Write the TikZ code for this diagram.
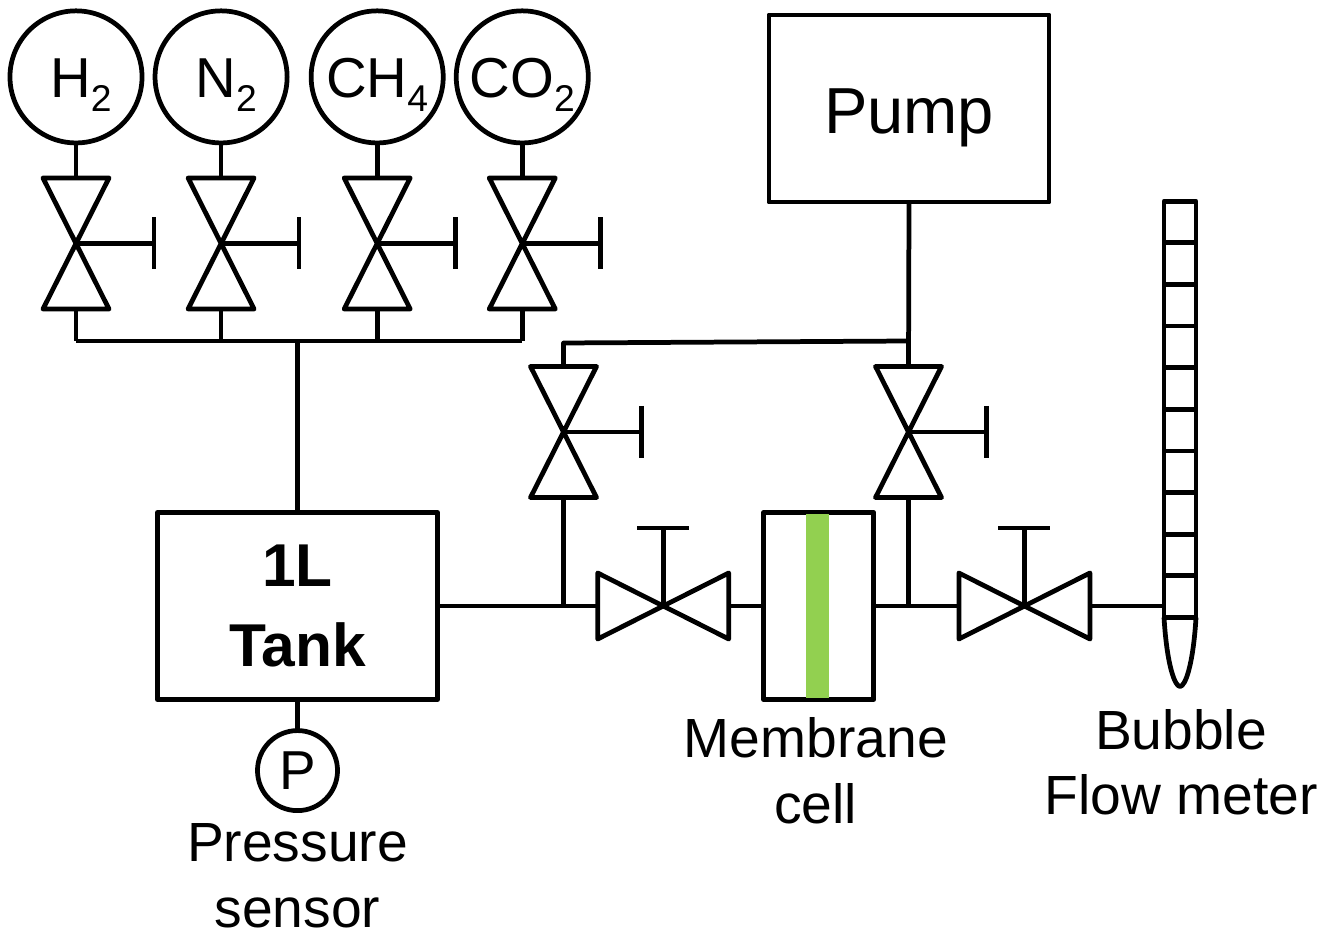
\documentclass[tikz,border=0pt]{standalone}
\usepackage{fontspec}
\usepackage{xcolor}
\setmainfont{Liberation Sans}
\usetikzlibrary{positioning}

\definecolor{filmgreen}{HTML}{92D050}

\tikzset{
    gas/.style={draw, circle, minimum size=1.32cm, inner sep=0pt, outer sep=0pt, text height=0.42cm, text depth=0cm, font=\fontsize{16}{18}\selectfont},
    vvalve/.style={minimum width=0.66cm, minimum height=1.31cm, inner sep=0pt, outer sep=0pt},
    hvalve/.style={minimum width=1.31cm, minimum height=0.66cm, inner sep=0pt, outer sep=0pt},
    block/.style={draw, rectangle, inner sep=0pt, outer sep=0pt, minimum width=2.8cm, minimum height=1.87cm},
    cell/.style={draw, rectangle, inner sep=0pt, outer sep=0pt, minimum width=0.32cm, minimum height=0.416cm},
    caption/.style={inner sep=0pt, align=center, font=\fontsize{15.7}{18.5}\selectfont}
}

\newcommand{\gaslabel}[3][0cm]{\hspace*{#1}#2\raisebox{-0.14cm}{\fontsize{10.6}{12}\selectfont #3}}
\newcommand{\vglyph}[1]{\draw (#1.north west) -- (#1.north east) -- (#1.south west) -- (#1.south east) -- cycle;
    \draw (#1.center) -- +(78,0) +(78,-26) -- +(78,26);}
\newcommand{\hglyph}[1]{\draw (#1.north west) -- (#1.south west) -- (#1.north east) -- (#1.south east) -- cycle;
    \draw (#1.center) -- +(0,-78) +(-26,-78) -- +(26,-78);}

\begin{document}
\begin{tikzpicture}[x=0.01cm, y=-0.01cm, line width=1.35pt, line join=round]
        \useasboundingbox (0,0) rectangle (1325,934);

        % Gas valves
        \node (v1) [vvalve] at (76,243.5) {};
        \node (v2) [vvalve, right=0.79cm of v1] {};
        \node (v3) [vvalve, right=0.90cm of v2] {};
        \node (v4) [vvalve, right=0.79cm of v3] {};
        \vglyph{v1}
        \vglyph{v2}
        \vglyph{v3}
        \vglyph{v4}

        % Gas cylinders
        \node (h2) [gas, above=0.35cm of v1] {\gaslabel[0.1cm]{H}{2}};
        \node (n2) [gas, above=0.35cm of v2] {\gaslabel[0.1cm]{N}{2}};
        \node (ch4) [gas, above=0.35cm of v3] {\gaslabel{CH}{4}};
        \node (co2) [gas, above=0.35cm of v4] {\gaslabel{CO}{2}};

        % Header
        \coordinate (hdr1) at (v1.south |- 0,341);
        \coordinate (hdr2) at (v2.south |- 0,341);
        \coordinate (hdr3) at (v3.south |- 0,341);
        \coordinate (hdr4) at (v4.south |- 0,341);

        % Tank
        \node (tank) [block, align=center, font=\fontsize{17.2}{22.6}\selectfont\bfseries] at (297.5,606) {1L\\Tank};
        \node (sensor) [draw, circle, minimum size=0.8cm, inner sep=0pt, outer sep=0pt, font=\fontsize{15.6}{18}\selectfont, below=0.31cm of tank] {P};
        \node (sensorlabel) [caption, below=0.11cm of sensor] {Pressure\\sensor};

        % Feed line valves
        \node (hv1) [hvalve, right=1.60cm of tank] {};
        \hglyph{hv1}

        % Membrane cell
        \node (cellbody) [block, minimum width=1.1cm, right=0.35cm of hv1] {};
        \node (film) [fill=filmgreen, minimum width=0.23cm, minimum height=1.83cm, inner sep=0pt, xshift=-0.015cm] at (cellbody) {};
        \node (celllabel) [caption, below=0.16cm of cellbody, xshift=-0.03cm] {Membrane\\cell};

        \node (hv2) [hvalve, right=0.85cm of cellbody] {};
        \hglyph{hv2}

        % Pump
        \node (pump) [block, text height=0.49cm, text depth=0cm, font=\fontsize{18.5}{22}\selectfont] at (909,108.5) {Pump};

        % Bypass valves
        \node (v5) [vvalve] at (563.5,432) {};
        \node (v6) [vvalve] at (908.5,432) {};
        \vglyph{v5}
        \vglyph{v6}
        \coordinate (topl) at (v5.north |- 0,343);
        \coordinate (topr) at (v6.north |- 0,341);

        % Bubble flow meter
        \node (m1) [cell] at (1180,222) {};
        \node (m2) [cell, below=0cm of m1] {};
        \node (m3) [cell, below=0cm of m2] {};
        \node (m4) [cell, below=0cm of m3] {};
        \node (m5) [cell, below=0cm of m4] {};
        \node (m6) [cell, below=0cm of m5] {};
        \node (m7) [cell, below=0cm of m6] {};
        \node (m8) [cell, below=0cm of m7] {};
        \node (m9) [cell, below=0cm of m8] {};
        \node (m10) [cell, below=0cm of m9] {};
        \coordinate [below=0.69cm of m10] (tip);
        \draw (m10.south west) .. controls +(3,49) and +(-5,0) .. (tip) .. controls +(5,0) and +(-3,49) .. (m10.south east);
        \node (meterlabel) [caption, anchor=north] at (1181,707) {Bubble\\Flow meter};

        % Connections
        \draw (h2) -- (v1);
        \draw (n2) -- (v2);
        \draw (ch4) -- (v3);
        \draw (co2) -- (v4);
        \draw (v1.south) -- (hdr1);
        \draw (v2.south) -- (hdr2);
        \draw (v3.south) -- (hdr3);
        \draw (v4.south) -- (hdr4);
        \draw (hdr1) -- (hdr4);
        \draw (tank.north) -- (tank.north |- hdr1);
        \draw (tank) -- (sensor);
        \draw (tank.east) -- (hv1.west);
        \draw (hv1.east) -- (cellbody.west);
        \draw (cellbody.east) -- (hv2.west);
        \draw (hv2.east) -- (hv2.east -| m10.west);
        \draw (pump.south) -- (v6.north);
        \draw (v5.north) -- (topl) -- (topr);
        \draw (v5.south) -- (v5.south |- tank.east);
        \draw (v6.south) -- (v6.south |- cellbody.east);
    \end{tikzpicture}
\end{document}
